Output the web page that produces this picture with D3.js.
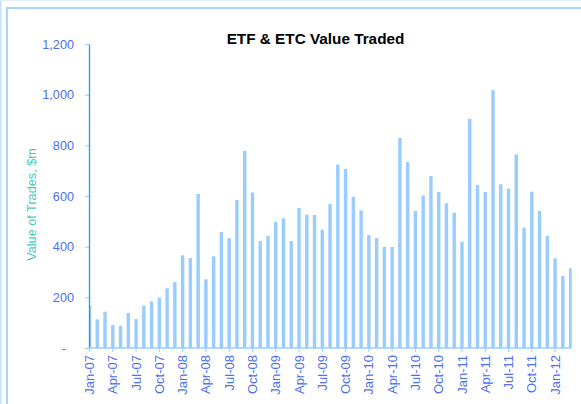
<!DOCTYPE html>
<html>
<head>
	<title>ETF & ETC Value Traded</title>
	<script src="https://d3js.org/d3.v7.min.js"></script>
	<style type="text/css">
		body { margin: 0; background: #fff; }
		text { font-family: Arial, "Liberation Sans", sans-serif; }
	</style>
</head>
<body>
<div id="chart"></div>
	<script type="text/javascript">
	// monthly categories, Jan-07 .. Mar-12
	var months = [
		'Jan-07','Feb-07','Mar-07','Apr-07','May-07','Jun-07','Jul-07','Aug-07','Sep-07','Oct-07','Nov-07','Dec-07',
		'Jan-08','Feb-08','Mar-08','Apr-08','May-08','Jun-08','Jul-08','Aug-08','Sep-08','Oct-08','Nov-08','Dec-08',
		'Jan-09','Feb-09','Mar-09','Apr-09','May-09','Jun-09','Jul-09','Aug-09','Sep-09','Oct-09','Nov-09','Dec-09',
		'Jan-10','Feb-10','Mar-10','Apr-10','May-10','Jun-10','Jul-10','Aug-10','Sep-10','Oct-10','Nov-10','Dec-10',
		'Jan-11','Feb-11','Mar-11','Apr-11','May-11','Jun-11','Jul-11','Aug-11','Sep-11','Oct-11','Nov-11','Dec-11',
		'Jan-12','Feb-12','Mar-12'];

	// value of trades, $m
	var values = [
		166, 113, 143, 91, 87, 138, 114, 167, 184, 199, 236, 260,
		366, 355, 608, 271, 362, 458, 434, 584, 778, 614, 422, 443,
		497, 512, 422, 553, 526, 525, 467, 568, 724, 707, 597, 543,
		446, 434, 399, 399, 829, 734, 541, 602, 679, 616, 571, 534,
		420, 905, 643, 616, 1018, 646, 629, 764, 475, 617, 541, 443,
		354, 284, 315];

	var tickLabels = ['Jan-07','Apr-07','Jul-07','Oct-07','Jan-08','Apr-08','Jul-08','Oct-08',
		'Jan-09','Apr-09','Jul-09','Oct-09','Jan-10','Apr-10','Jul-10','Oct-10',
		'Jan-11','Apr-11','Jul-11','Oct-11','Jan-12'];
	var yTicks = [0, 200, 400, 600, 800, 1000, 1200];

	var width = 581,
		height = 404,
		plotLeft = 89,
		plotRight = 571.7,
		plotTop = 44,
		plotBottom = 348;

	var svg = d3.select('#chart')
		.append('svg')
		.attr('width', width)
		.attr('height', height);

	// frame lines (chart is cropped on the right and bottom)
	svg.append('line').attr('x1', 0.5).attr('y1', 0).attr('x2', 0.5).attr('y2', height)
		.attr('stroke', '#c6e0ff').attr('stroke-width', 2);
	svg.append('line').attr('x1', 0).attr('y1', 0.5).attr('x2', width).attr('y2', 0.5)
		.attr('stroke', '#e2efff').attr('stroke-width', 1.5);
	svg.append('line').attr('x1', 7).attr('y1', 8).attr('x2', 7).attr('y2', height)
		.attr('stroke', '#a9d2ff').attr('stroke-width', 2);
	svg.append('line').attr('x1', 6).attr('y1', 8).attr('x2', width).attr('y2', 8)
		.attr('stroke', '#a9d2ff').attr('stroke-width', 2);

	var x = d3.scaleLinear()
		.domain([0, months.length - 1])
		.range([89.5, 570.6]);

	var y = d3.scaleLinear()
		.domain([0, 1200])
		.range([plotBottom, plotTop]);

	var barW = (x(1) - x(0)) * 0.44;

	svg.append('clipPath').attr('id', 'plot')
		.append('rect')
		.attr('x', plotLeft).attr('y', 0)
		.attr('width', plotRight - plotLeft).attr('height', plotBottom);

	svg.append('g')
		.attr('clip-path', 'url(#plot)')
		.selectAll('rect')
		.data(values)
		.enter()
		.append('rect')
		.attr('x', function(d, i) { return x(i) - barW / 2; })
		.attr('y', function(d) { return y(d); })
		.attr('width', barW)
		.attr('height', function(d) { return plotBottom - y(d); })
		.attr('fill', '#99ccff');

	// y axis
	var yAxis = svg.append('g')
		.attr('transform', 'translate(' + plotLeft + ',0)')
		.call(d3.axisLeft(y).tickValues(yTicks).tickSize(4).tickSizeOuter(0).tickPadding(11)
			.tickFormat(function(d) { return d === 0 ? '-' : d3.format(',')(d); }));
	yAxis.select('.domain').attr('stroke', '#1a9fe0').attr('stroke-width', 1.3);
	yAxis.selectAll('.tick line').attr('stroke', '#99ccff');
	yAxis.selectAll('.tick text')
		.attr('fill', '#4d6ff2')
		.style('font-size', '12.7px')
		.attr('dx', function(d) { return d === 0 ? -8 : 0; });

	// x axis
	var xAxis = svg.append('g')
		.attr('transform', 'translate(0,' + plotBottom + ')');
	xAxis.append('line')
		.attr('x1', plotLeft).attr('x2', plotRight)
		.attr('stroke', '#99ccff').attr('stroke-width', 1.3);
	var xt = xAxis.selectAll('g.xtick')
		.data(tickLabels)
		.enter()
		.append('g')
		.attr('class', 'xtick')
		.attr('transform', function(d) { return 'translate(' + x(months.indexOf(d)) + ',0)'; });
	xt.append('line').attr('y1', 0).attr('y2', 4).attr('stroke', '#99ccff');
	xt.append('text')
		.attr('transform', 'translate(0,7) rotate(-90)')
		.attr('text-anchor', 'end')
		.attr('dy', '0.35em')
		.attr('fill', '#4d6ff2')
		.style('font-size', '13px')
		.text(function(d) { return d; });

	// y label
	svg.append('text')
		.attr('transform', 'translate(35.5,204.5) rotate(-90)')
		.attr('text-anchor', 'middle')
		.attr('fill', '#4ccac0')
		.style('font-size', '12.7px')
		.text('Value of Trades, $m');

	// title
	svg.append('text')
		.attr('x', 315.5)
		.attr('y', 44)
		.attr('text-anchor', 'middle')
		.style('font', 'bold 15.3px Arial, "Liberation Sans", sans-serif')
		.attr('fill', '#000')
		.text('ETF & ETC Value Traded');
	</script>
</body>
</html>
